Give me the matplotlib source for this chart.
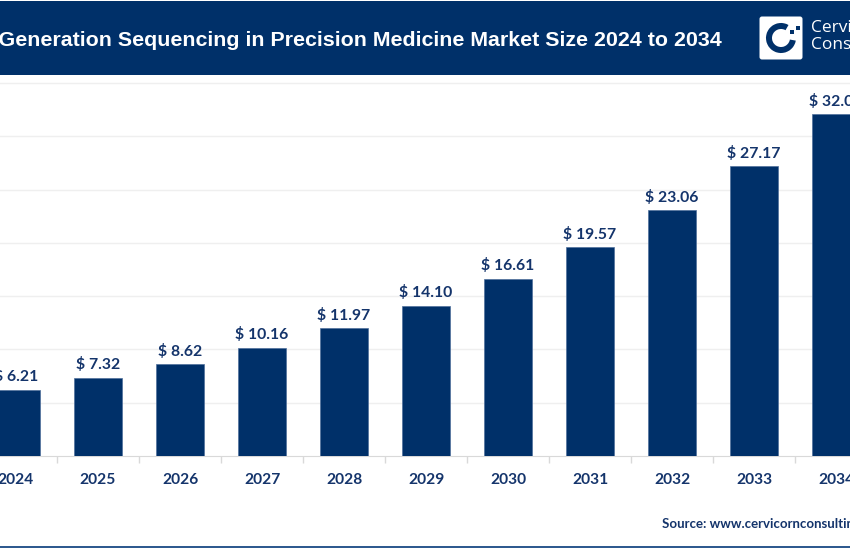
import matplotlib
matplotlib.use("Agg")
import matplotlib.pyplot as plt
from matplotlib.patches import FancyBboxPatch, Rectangle, Wedge

COR_AZUL = "#003069"
COR_TXT = "#14346b"
COR_GRADE = "#efefef"
COR_EIXO = "#d9d9d9"

anos = ["2024", "2025", "2026", "2027", "2028", "2029", "2030", "2031", "2032", "2033", "2034"]
valores = [6.21, 7.32, 8.62, 10.16, 11.97, 14.10, 16.61, 19.57, 23.06, 27.17, 32.06]
grade_y = [5, 10, 15, 20, 25, 30, 35]
titulo = "Next Generation Sequencing in Precision Medicine Market Size 2024 to 2034"
fonte = "Source: www.cervicornconsulting.com"

W, H = 850, 550
fig = plt.figure(figsize=(W / 100, H / 100), dpi=100, facecolor="white")

# grafico principal, ocupa toda a largura
ax = fig.add_axes([0, (H - 456) / H, 1, (456 - 75) / H])
x = list(range(len(anos)))
ax.bar(x, valores, width=47.5 / 82, color=COR_AZUL, edgecolor="#4f6f9c", linewidth=0.5, zorder=3)
ax.set_yticks(grade_y)
ax.tick_params(axis="y", left=False, labelleft=False)
ax.grid(axis="y", color=COR_GRADE, linewidth=1, zorder=0)
ax.set_xticks(x)
ax.set_xticklabels(anos, fontsize=11.2, fontweight="bold", color=COR_TXT, family="Lato")
ax.tick_params(axis="x", length=0, pad=12)
ax.set_xticks([i + 0.5 for i in x], minor=True)
ax.tick_params(axis="x", which="minor", length=5, width=1, color=COR_EIXO)
# limites depois dos ticks, senao os minor ticks alargam a vista
ax.set_xlim(-16 / 82, 834 / 82)
ax.set_ylim(0, (456 - 75) / 10.66)
for lado in ["top", "left", "right"]:
    ax.spines[lado].set_visible(False)
ax.spines["bottom"].set_color(COR_EIXO)
for xi, v in zip(x, valores):
    ax.annotate(f"$ {v:.2f}", (xi, v), xytext=(0, 4), textcoords="offset points",
                ha="center", va="bottom", fontsize=11.3, fontweight="bold",
                color=COR_TXT, family="Lato", zorder=4)

# camada em pixels: cabecalho, logo, fonte
top = fig.add_axes([0, 0, 1, 1], zorder=5)
top.set_xlim(0, W)
top.set_ylim(H, 0)
top.axis("off")
top.add_patch(Rectangle((0, 1), W, 73.5, facecolor=COR_AZUL, edgecolor="none"))
top.text(722, 41, titulo, ha="right", va="center", fontsize=15.4, fontweight="bold",
         color="white", family="Liberation Sans")

top.add_patch(FancyBboxPatch((761, 18), 40, 40, boxstyle="round,pad=1.5,rounding_size=2.5",
                             facecolor="white", edgecolor="none"))
top.add_patch(Wedge((781, 38), 15, 10, 300, width=6, facecolor=COR_AZUL, edgecolor="none"))
top.add_patch(Rectangle((790, 30), 4, 4, facecolor=COR_AZUL, edgecolor="none"))
top.add_patch(Rectangle((796, 26), 4, 4, facecolor=COR_AZUL, edgecolor="none"))
top.text(811, 28, "Cervicorn", ha="left", va="center", fontsize=12.5, color="white", family="Open Sans")
top.text(811, 45, "Consulting", ha="left", va="center", fontsize=12.5, color="white", family="Open Sans")

top.text(662, 524, fonte, ha="left", va="center", fontsize=9.5, fontweight="bold",
         color=COR_TXT, family="Lato")
top.add_patch(Rectangle((0, 546), W, 2, facecolor="#2f5a8f", edgecolor="none"))

fig.savefig("out.png", dpi=100)
plt.close(fig)
